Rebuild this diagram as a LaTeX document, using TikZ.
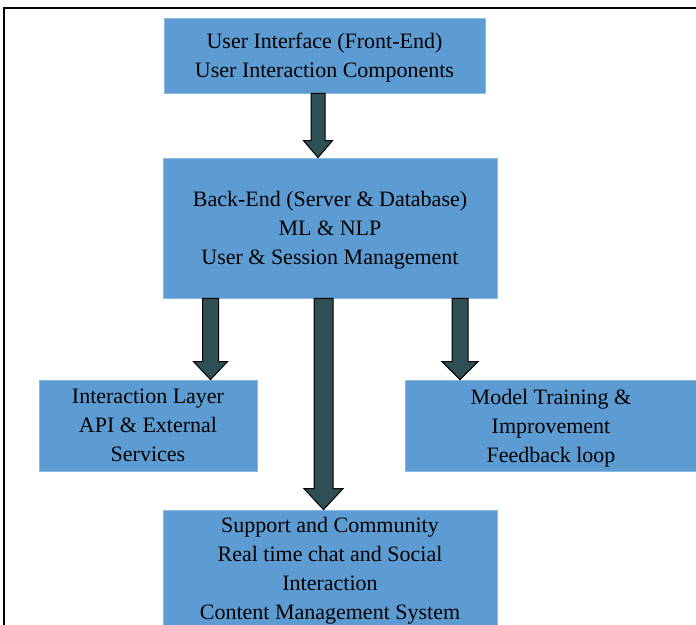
\documentclass[tikz,border=0pt]{standalone}
\usepackage{fontspec}
\setmainfont{Liberation Serif}
\usetikzlibrary{calc}

\definecolor{boxblue}{RGB}{93,156,211}
\definecolor{boxedge}{RGB}{140,185,225}
\definecolor{arrowfill}{RGB}{46,80,84}

% fat block arrow: x, from node, to node, shaft half width, head half width, head length
\newcommand{\fatarrow}[6]{%
	\draw[fatarrow] let \p1=(#2.south), \p2=(#3.north) in
	({(#1-#4)*1pt},\y1) -- ({(#1-#4)*1pt},\y2+#6pt) -- ({(#1-#5)*1pt},\y2+#6pt) -- ({#1*1pt},\y2)
	-- ({(#1+#5)*1pt},\y2+#6pt) -- ({(#1+#4)*1pt},\y2+#6pt) -- ({(#1+#4)*1pt},\y1) -- cycle;}

\begin{document}
\begin{tikzpicture}[x=1pt,y=-1pt,
	block/.style={fill=boxblue,draw=boxedge,line width=0.8pt,inner sep=0pt,align=center,
		text depth=0pt,font=\fontsize{22}{29}\selectfont},
	fatarrow/.style={fill=arrowfill,draw=black,line width=1pt,line join=miter}]
		\useasboundingbox (0,0) rectangle (696,624);
		
		% outer frame
		\draw[line width=2.2pt] (700,8) -- (4,8) -- (4,630);
		
		\node[block,minimum width=321pt,minimum height=75pt] (ui) at (324.5,55.5)
		{User Interface (Front-End)\\User Interaction Components};
		\node[block,minimum width=334pt,minimum height=140pt] (be) at (330,228)
		{Back-End (Server \& Database)\\ML \& NLP\\User \& Session Management};
		\node[block,minimum width=218pt,minimum height=91pt] (il) at (148,425.5)
		{Interaction Layer\\API \& External\\Services};
		\node[block,minimum width=292pt,minimum height=91pt] (mt) at (551,425.5)
		{Model Training \&\\Improvement\\Feedback loop};
		\node[block,minimum width=334pt,minimum height=116pt] (sc) at (330,568)
		{Support and Community\\Real time chat and Social\\Interaction\\Content Management System};
		
		\fatarrow{318}{ui}{be}{7}{14.5}{17}
		\fatarrow{210.5}{be}{il}{8}{17}{18}
		\fatarrow{323.5}{be}{sc}{9.5}{19.5}{21}
		\fatarrow{460}{be}{mt}{8}{18}{18}
\end{tikzpicture}
\end{document}
